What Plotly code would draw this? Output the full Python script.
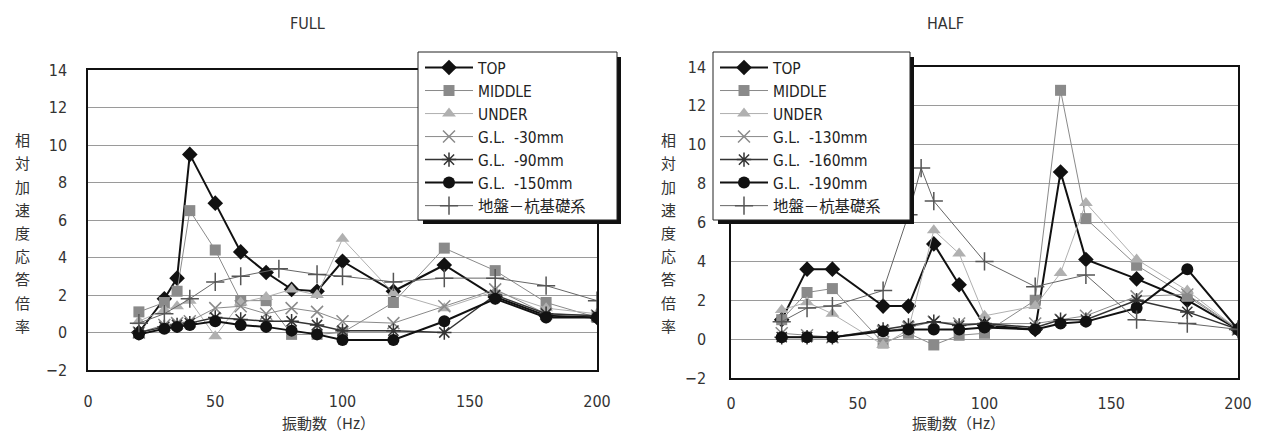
import plotly.graph_objects as go

# page has an 8px body margin: figure is drawn inside it
PAGE_W, PAGE_H, OFF = 1268, 443, 8
W, H = PAGE_W - 2 * OFF, PAGE_H - 2 * OFF

# ---------------- data: FULL ----------------
x_full = [20, 30, 35, 40, 50, 60, 70, 80, 90, 100, 120, 140, 160, 180, 200]
top_full = [0.0, 1.8, 2.9, 9.5, 6.9, 4.3, 3.2, 2.3, 2.2, 3.8, 2.2, 3.6, 1.9, 0.9, 0.8]
middle_full = [1.1, 1.6, 2.2, 6.5, 4.4, 1.7, 1.7, -0.1, -0.1, 0.0, 1.6, 4.5, 3.3, 1.6, 0.8]
under_full = [0.6, 1.2, 1.4, 1.7, -0.2, 1.6, 1.9, 2.3, 2.0, 5.0, 2.1, 1.3, 2.2, 1.3, 1.0]
gl30_full = [0.0, 0.4, 0.5, 0.6, 1.3, 1.4, 1.0, 1.3, 1.1, 0.6, 0.5, 1.4, 2.3, 1.0, 0.9]
gl90_full = [0.0, 0.3, 0.4, 0.5, 0.8, 0.7, 0.6, 0.6, 0.4, 0.1, 0.1, 0.0, 2.0, 1.0, 0.9]
gl150_full = [-0.1, 0.2, 0.3, 0.4, 0.6, 0.4, 0.3, 0.1, -0.1, -0.4, -0.4, 0.6, 1.8, 0.8, 0.8]
x_ground_full = [20, 30, 40, 50, 60, 75, 90, 100, 120, 140, 160, 180, 200]
ground_full = [0.5, 1.0, 1.8, 2.7, 3.0, 3.4, 3.1, 3.0, 2.7, 2.9, 2.9, 2.5, 1.7]

# ---------------- data: HALF ----------------
x_half = [20, 30, 40, 60, 70, 80, 90, 100, 120, 130, 140, 160, 180, 200]
top_half = [1.0, 3.6, 3.6, 1.7, 1.7, 4.9, 2.8, 0.7, 0.5, 8.6, 4.1, 3.1, 2.0, 0.5]
middle_half = [1.0, 2.4, 2.6, -0.2, 0.3, -0.3, 0.2, 0.3, 2.0, 12.8, 6.2, 3.8, 2.2, 0.5]
under_half = [1.5, 1.9, 1.3, -0.3, 0.5, 5.6, 4.4, 1.2, 1.7, 3.4, 7.0, 4.1, 2.5, 0.5]
gl130_half = [0.3, 0.2, 0.1, 0.4, 0.6, 0.9, 0.8, 0.8, 0.8, 1.0, 1.2, 2.2, 2.3, 0.5]
gl160_half = [0.1, 0.1, 0.1, 0.5, 0.7, 0.9, 0.7, 0.8, 0.6, 1.0, 1.0, 2.0, 1.4, 0.5]
gl190_half = [0.1, 0.1, 0.1, 0.4, 0.5, 0.5, 0.5, 0.6, 0.5, 0.8, 0.9, 1.6, 3.6, 0.5]
x_ground_half = [20, 30, 40, 60, 70, 75, 80, 100, 120, 140, 160, 180, 200]
ground_half = [0.9, 1.6, 1.7, 2.5, 6.4, 8.8, 7.1, 4.0, 2.7, 3.3, 1.0, 0.8, 0.5]

names_full = ["TOP", "MIDDLE", "UNDER", "G.L.  -30mm", "G.L.  -90mm", "G.L.  -150mm", "地盤－杭基礎系"]
names_half = ["TOP", "MIDDLE", "UNDER", "G.L.  -130mm", "G.L.  -160mm", "G.L.  -190mm", "地盤－杭基礎系"]
panel_titles = ["FULL", "HALF"]
x_ticks = [0, 50, 100, 150, 200]
y_ticks = [-2, 0, 2, 4, 6, 8, 10, 12, 14]
x_title = "振動数（Hz）"
y_title = "相対加速度応答倍率"

# ---------------- styles ----------------
styles = [
    dict(symbol="diamond", size=12, color="#111111", lw=2.0, lc="#111111", open=False),
    dict(symbol="square", size=11, color="#8a8a8a", lw=1.0, lc="#8a8a8a", open=False),
    dict(symbol="triangle-up", size=12, color="#b0b0b0", lw=1.0, lc="#b0b0b0", open=False),
    dict(symbol="x-thin-open", size=12, color="#8a8a8a", lw=1.0, lc="#8a8a8a", open=True),
    dict(symbol="asterisk-open", size=12, color="#333333", lw=1.5, lc="#333333", open=True),
    dict(symbol="circle", size=12, color="#111111", lw=2.0, lc="#111111", open=False),
    dict(symbol="cross-thin-open", size=13, color="#555555", lw=1.0, lc="#666666", open=True),
]

FONT = "Liberation Sans Narrow, DejaVu Sans Condensed, Liberation Sans, Noto Sans CJK JP, sans-serif"
CJK = "Noto Sans CJK JP, sans-serif"

fig = go.Figure()


def add_panel(xs, series, xg, ground, names, xa, ya, legend):
    all_x = [xs] * 6 + [xg]
    all_y = list(series) + [ground]
    for i, (xv, yv) in enumerate(zip(all_x, all_y)):
        s = styles[i]
        if s["open"]:
            marker = dict(symbol=s["symbol"], size=s["size"], color=s["color"],
                          line=dict(color=s["color"], width=1.5))
        else:
            marker = dict(symbol=s["symbol"], size=s["size"], color=s["color"],
                          line=dict(color=s["color"], width=0))
        fig.add_trace(go.Scatter(
            x=xv, y=yv, mode="lines+markers", name=names[i],
            line=dict(color=s["lc"], width=s["lw"]),
            marker=marker, xaxis=xa, yaxis=ya, legend=legend,
        ))


add_panel(x_full, [top_full, middle_full, under_full, gl30_full, gl90_full, gl150_full],
          x_ground_full, ground_full, names_full, "x", "y", "legend")
add_panel(x_half, [top_half, middle_half, under_half, gl130_half, gl160_half, gl190_half],
          x_ground_half, ground_half, names_half, "x2", "y2", "legend2")


def px(v):
    return (v - OFF) / W


def py(v):
    return 1 - (v - OFF) / H


axis_common = dict(showline=True, linecolor="#111111", linewidth=1.5, mirror=True,
                   zeroline=False, ticks="", automargin=False,
                   tickfont=dict(family=FONT, size=16, color="#333333"))

legend_common = dict(xanchor="left", yanchor="top", bgcolor="rgba(0,0,0,0)",
                     borderwidth=0, itemwidth=48, tracegroupgap=0,
                     font=dict(family=FONT, size=15.4, color="#222222"))

fig.update_layout(
    width=W, height=H, margin=dict(l=0, r=0, t=0, b=0, autoexpand=False),
    paper_bgcolor="white", plot_bgcolor="white", showlegend=True,
    xaxis=dict(domain=[px(88), px(597)], range=[0, 200], tickvals=x_ticks, showgrid=False,
               anchor="y", ticklabelstandoff=16, **axis_common),
    yaxis=dict(domain=[py(370), py(70)], range=[-2, 14], tickvals=y_ticks, showgrid=True,
               gridcolor="#9a9a9a", gridwidth=1, anchor="x", ticklabelstandoff=16, **axis_common),
    xaxis2=dict(domain=[px(731), px(1238)], range=[0, 200], tickvals=x_ticks, showgrid=False,
                anchor="y2", ticklabelstandoff=10, **axis_common),
    yaxis2=dict(domain=[py(378), py(67)], range=[-2, 14], tickvals=y_ticks, showgrid=True,
                gridcolor="#9a9a9a", gridwidth=1, anchor="x2", ticklabelstandoff=20, **axis_common),
    legend=dict(x=px(420), y=py(51), **legend_common),
    legend2=dict(x=px(715), y=py(51), **legend_common),
)

# legend boxes with drop shadow (Excel style)
shapes = []
for (x0, x1) in [(418, 617), (713, 910)]:
    y0, y1 = 52, 220
    shapes.append(dict(type="rect", xref="paper", yref="paper", layer="above",
                       x0=px(x0 + 5), x1=px(x1 + 4), y0=py(y0 + 5), y1=py(y1 + 4),
                       fillcolor="#111111", line=dict(width=0)))
    shapes.append(dict(type="rect", xref="paper", yref="paper", layer="above",
                       x0=px(x0), x1=px(x1), y0=py(y0), y1=py(y1),
                       fillcolor="white", line=dict(color="#222222", width=1)))
fig.update_layout(shapes=shapes)

annotations = []
for title, cx in zip(panel_titles, [307, 945]):
    annotations.append(dict(text=title, x=px(cx), y=py(23), xref="paper", yref="paper",
                            xanchor="center", yanchor="middle", showarrow=False,
                            font=dict(family=FONT, size=16, color="#333333")))
for cx in [328, 958]:
    annotations.append(dict(text=x_title, x=px(cx), y=py(422), xref="paper", yref="paper",
                            xanchor="center", yanchor="middle", showarrow=False,
                            font=dict(family=CJK, size=15, color="#333333")))
# vertical (upright, stacked) y-axis titles, one character per annotation
pitch = 23.2
for cx, top in [(22, 128), (668, 128)]:
    for k, ch in enumerate(y_title):
        annotations.append(dict(text=ch, x=px(cx), y=py(top + pitch * (k + 0.5)),
                                xref="paper", yref="paper", xanchor="center", yanchor="middle",
                                showarrow=False,
                                font=dict(family=CJK, size=15, color="#333333")))
fig.update_layout(annotations=annotations)

fig.write_html("out.html")
